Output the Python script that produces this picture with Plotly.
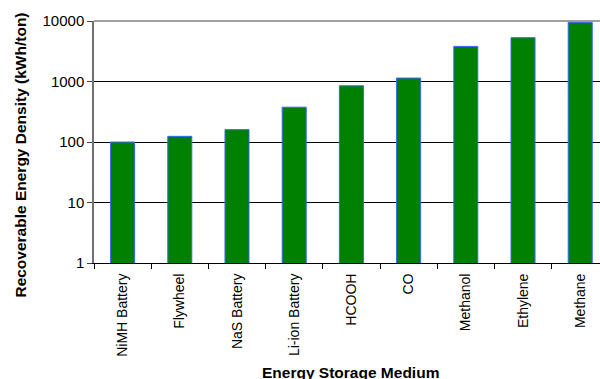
import plotly.graph_objects as go

categories = ["NiMH Battery", "Flywheel", "NaS Battery", "Li-ion Battery", "HCOOH",
              "CO", "Methanol", "Ethylene", "Methane"]
energy_density = [100, 124, 160, 376, 850, 1140, 3800, 5300, 9500]
y_tick_vals = [1, 10, 100, 1000, 10000]
y_tick_text = ["1", "10", "100", "1000", "10000"]

FONT = "Liberation Sans"

fig = go.Figure(go.Bar(
    x=categories,
    y=energy_density,
    width=0.42,
    marker=dict(color="#008000", line=dict(color="#3366FF", width=1)),
))

fig.update_layout(
    width=600, height=379,
    margin=dict(l=94, r=0, t=21, b=116),
    paper_bgcolor="white", plot_bgcolor="white",
    showlegend=False,
    font=dict(family=FONT, color="black"),
    xaxis=dict(
        type="category",
        range=[-0.5, 8.346],
        tickangle=-90,
        tickfont=dict(size=14, family=FONT, color="black"),
        ticks="outside", ticklen=5, tickcolor="black", tickson="boundaries",
        ticklabelstandoff=4,
        showline=True, linecolor="black", linewidth=1,
        showgrid=False,
    ),
    yaxis=dict(
        type="log",
        range=[0, 4],
        tickvals=y_tick_vals,
        ticktext=y_tick_text,
        tickfont=dict(size=15, family=FONT, color="black"),
        ticks="outside", ticklen=5, tickcolor="#404040",
        showline=True, linecolor="#707070", linewidth=1.5,
        showgrid=True, gridcolor="black", gridwidth=1,
        zeroline=False,
    ),
    shapes=[dict(type="line", xref="paper", yref="paper", x0=0, x1=1, y0=1, y1=1,
                 line=dict(color="#808080", width=1.5), layer="above")],
    annotations=[
        dict(text="<b>Energy Storage Medium</b>", xref="paper", yref="paper",
             x=0.506, y=-0.4545, xanchor="center", yanchor="middle", showarrow=False,
             font=dict(size=15.5, family=FONT, color="black")),
        dict(text="<b>Recoverable Energy Density (kWh/ton)</b>", xref="paper", yref="paper",
             x=-0.1443, y=0.448, xanchor="center", yanchor="middle", showarrow=False,
             textangle=-90, font=dict(size=15.5, family=FONT, color="black")),
    ],
)

fig.write_html("out.html")
